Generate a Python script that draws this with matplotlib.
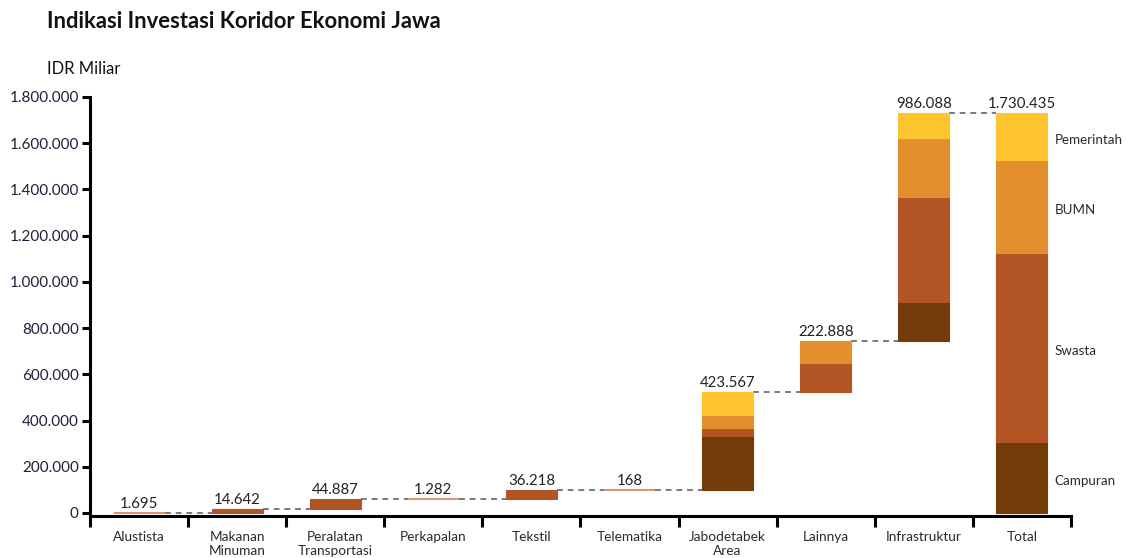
import matplotlib
matplotlib.use("Agg")
import matplotlib.pyplot as plt
from matplotlib.ticker import FuncFormatter, FixedLocator
import numpy as np

plt.rcParams['font.family'] = ['Lato', 'DejaVu Sans']

# Investment by corridor sector (IDR Miliar)
categories = ["Alustista", "Makanan\nMinuman", "Peralatan\nTransportasi", "Perkapalan",
              "Tekstil", "Telematika", "Jabodetabek\nArea", "Lainnya", "Infrastruktur", "Total"]
values = [1695, 14642, 44887, 1282, 36218, 168, 423567, 222888, 986088, 1730435]
value_labels = ["1.695", "14.642", "44.887", "1.282", "36.218", "168",
                "423.567", "222.888", "986.088", "1.730.435"]

# Breakdown by investor type (stack order bottom -> top)
investors = ["Campuran", "Swasta", "BUMN", "Pemerintah"]
campuran   = [0, 0, 0, 0, 0, 0, 234600, 0, 168600, 305000]
swasta     = [1695, 14642, 44887, 1282, 36218, 168, 34000, 127300, 451600, 818935]
bumn       = [0, 0, 0, 0, 0, 0, 56700, 95588, 257400, 405500]
pemerintah = [0, 0, 0, 0, 0, 0, 98267, 0, 108488, 201000]

colors = {"Campuran": "#733a0a", "Swasta": "#b35424",
          "BUMN": "#e38f30", "Pemerintah": "#ffc52e"}

segments = {"Campuran": campuran, "Swasta": swasta, "BUMN": bumn, "Pemerintah": pemerintah}

fig = plt.figure(figsize=(11.26, 5.58), dpi=100)
ax = fig.add_axes([0.0799, 0.0753, 0.8712, 0.7509])

x = np.arange(len(categories))
width = 0.52

# waterfall bases: each sector starts where the previous one ended, Total starts at 0
bases = []
running = 0
for i, v in enumerate(values):
    if categories[i] == "Total":
        bases.append(0)
    else:
        bases.append(running)
        running += v

for i in range(len(categories)):
    bottom = bases[i]
    for name in investors:
        h = segments[name][i]
        if h <= 0:
            continue
        thin = h < 5000
        ax.bar(x[i], h, width=width, bottom=bottom,
               color="#e0906c" if thin else colors[name],
               edgecolor="#e0906c" if thin else colors[name],
               linewidth=1.4 if thin else 0.8, zorder=3)
        bottom += h
    ax.text(x[i], bases[i] + values[i] + 8000, value_labels[i], ha="center", va="bottom",
            fontsize=10.8, color="#222222", zorder=4)

# dashed connectors between consecutive bars
for i in range(len(categories) - 1):
    level = bases[i] + values[i]
    ax.plot([x[i] + width / 2, x[i + 1] - width / 2], [level, level],
            ls=(0, (3, 2.5)), color="#7a7a7a", lw=1.4, zorder=2)

# investor type labels next to the Total bar
ti = len(categories) - 1
cum = 0
for name in investors:
    h = segments[name][ti]
    ax.text(x[ti] + 0.33, cum + h / 2 - 15000, name, ha="left", va="center",
            fontsize=9.6, color="#2a2a2a")
    cum += h

ax.set_xlim(-0.5, len(categories) - 0.5)
ax.set_ylim(-13000, 1800000)

ax.spines["top"].set_visible(False)
ax.spines["right"].set_visible(False)
ax.spines["left"].set_linewidth(2.2)
ax.spines["bottom"].set_linewidth(2.2)

ax.set_yticks(np.arange(0, 1800001, 200000))
ax.yaxis.set_major_formatter(FuncFormatter(lambda v, p: f"{int(v):,}".replace(",", ".")))
ax.tick_params(axis="y", direction="out", length=6, width=2.2, labelsize=11,
               labelcolor="#1f1f3a", pad=2)

ax.xaxis.set_major_locator(FixedLocator(np.arange(-0.5, len(categories), 1.0)))
ax.xaxis.set_major_formatter(FuncFormatter(lambda v, p: ""))
ax.xaxis.set_minor_locator(FixedLocator(x))
ax.set_xticklabels(categories, minor=True)
ax.tick_params(axis="x", which="major", direction="out", length=8, width=2.2)
ax.tick_params(axis="x", which="minor", length=0, labelsize=9.8, labelcolor="#2a2a2a", pad=11)
for lbl in ax.get_xticklabels(minor=True):
    lbl.set_linespacing(1.2)

fig.text(47 / 1126, 1 - 22 / 558, "Indikasi Investasi Koridor Ekonomi Jawa", ha="left",
         va="center", fontsize=15.8, fontweight="bold", color="#111111")
fig.text(47 / 1126, 1 - 69 / 558, "IDR Miliar", ha="left", va="center",
         fontsize=12, color="#111111")

fig.savefig("out.png", dpi=100)
